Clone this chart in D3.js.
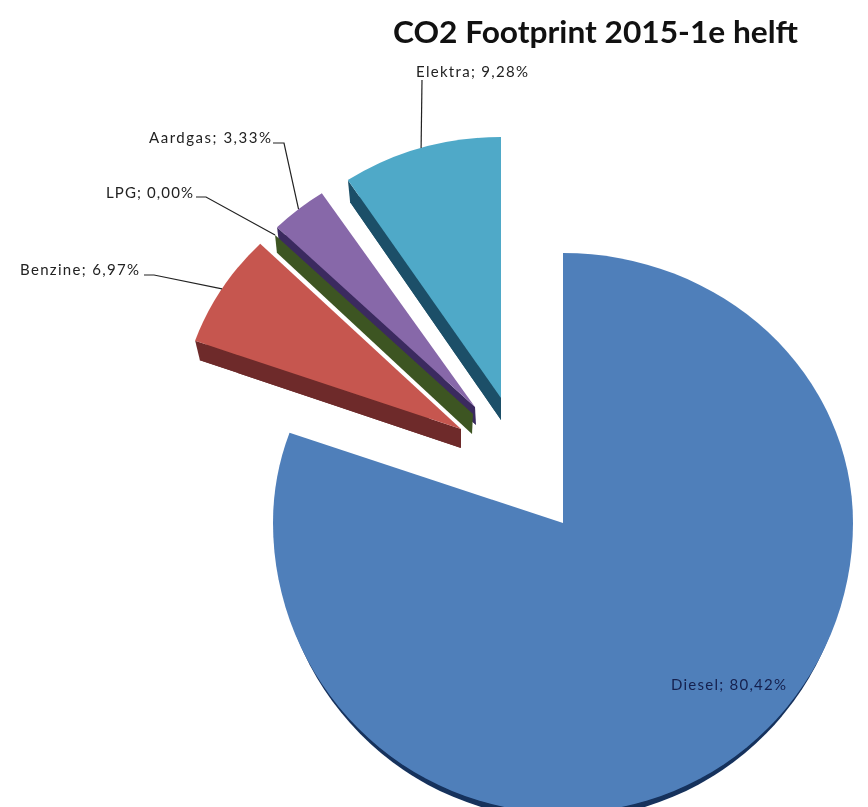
<!DOCTYPE html>
<html><head><meta charset="utf-8">
<style>html,body{margin:0;padding:0;background:#fff;overflow:hidden}svg{display:block}</style>
<script src="https://cdn.jsdelivr.net/npm/d3@7"></script></head>
<body><svg id="c" width="868" height="807"></svg>
<script>
const title = "CO2 Footprint 2015-1e helft";
const categories = ["Diesel","Benzine","LPG","Aardgas","Elektra"];
const values = [80.42,6.97,0.00,3.33,9.28];
const faceColors = ["#4f7fba","#c6574f","#4f6a2c","#8767a9","#4fa9c8"];
const wallColors = ["#14305c","#6e2b2b","#3e5423","#3a2a5e","#1c5068"];
const topFace = [[563,523,290,270],[461,429,282,264],[473,414,278,255],[475,407,278,256],[501,398,278,261]];
const baseFace = [[563,528,287,270],[461,448,277,263],[472,434,274,258],[476,425,277,262],[501,420,274,261]];
const nearDepth = [290,291];   // diesel's lower half is stretched by the perspective (face, base)
const labelPos = [[671,690,115],[139,275,119],[193,198,87],[271,143,122],[416,77,112]];
const elbows = [null,[[154,275],[144,275]],[[206,197],[196,197]],[[284,143],[273,143]],[[422,80]]];
const drawOrder = [0,1,3,2,"3f",4];

const svg = d3.select("#c");
const defs = svg.append("defs");
defs.append("filter").attr("id","soft").append("feGaussianBlur").attr("stdDeviation",0.45);
const pieGen = d3.pie().sort(null).startAngle(0).endAngle(2*Math.PI);
const arcs = pieGen(values);
const arcGen = d3.arc().innerRadius(0).outerRadius(1);
const pt = (f,a)=>{const p=d3.pointRadial(a,1);return [f[0]+p[0]*f[2],f[1]+p[1]*f[3]];};
const marks = svg.append("g").attr("filter","url(#soft)");
const tf = f=>`translate(${f[0]},${f[1]}) scale(${f[2]},${f[3]})`;

function drawDiesel(f,nearRy,color){
  const a=arcs[0];
  const q=Math.PI/2, t=3*Math.PI/2;
  const g=marks.append("g").attr("fill",color);
  g.append("path").attr("d",arcGen({startAngle:a.startAngle,endAngle:q})).attr("transform",tf(f));
  g.append("path").attr("d",arcGen({startAngle:q,endAngle:t})).attr("transform",tf([f[0],f[1],f[2],nearRy]));
  g.append("path").attr("d",arcGen({startAngle:t,endAngle:a.endAngle})).attr("transform",tf(f));
}
function drawWall(i){
  const a=arcs[i];
  marks.append("path").attr("d",arcGen(a)).attr("transform",tf(baseFace[i])).attr("fill",wallColors[i]);
  marks.append("path").attr("d",d3.line()([[topFace[i][0],topFace[i][1]],pt(topFace[i],a.startAngle),pt(baseFace[i],a.startAngle),[baseFace[i][0],baseFace[i][1]]])+"Z").attr("fill",wallColors[i]);
}
function drawFace(i){
  if(arcs[i].endAngle-arcs[i].startAngle<1e-6) return;
  marks.append("path").attr("d",arcGen(arcs[i])).attr("transform",tf(topFace[i])).attr("fill",faceColors[i]);
}
drawOrder.forEach(k=>{
  if(k===0){drawDiesel(baseFace[0],nearDepth[1],wallColors[0]);drawDiesel(topFace[0],nearDepth[0],faceColors[0]);return;}
  if(k==="3f"){drawFace(3);return;}
  if(k===3){drawWall(3);return;}
  drawWall(k);drawFace(k);
});

// leader lines
const leaders = svg.append("g").attr("fill","none").attr("stroke","#222").attr("stroke-width",1.2);
arcs.forEach((a,i)=>{
  if(!elbows[i]) return;
  const mid=(a.startAngle+a.endAngle)/2;
  leaders.append("path").attr("d",d3.line()([...elbows[i].slice().reverse(),pt(topFace[i],mid)]));
});

// labels
const fmt = v=>v.toFixed(2).replace(".",",")+"%";
const labels = svg.append("g").attr("font-family","Lato,sans-serif").attr("font-size",15);
arcs.forEach((a,i)=>{
  const lp=labelPos[i];
  const anchor=(i===0||i===4)?"start":"end";
  labels.append("text").attr("x",lp[0]).attr("y",lp[1]).attr("text-anchor",anchor)
    .attr("textLength",lp[2]).attr("lengthAdjust","spacing")
    .attr("fill",i===0?"#15204e":"#222").text(`${categories[i]}; ${fmt(values[i])}`);
});
svg.append("text").attr("x",393).attr("y",43).attr("font-family","Lato,sans-serif").attr("font-weight",700)
  .attr("font-size",30).attr("textLength",405).attr("lengthAdjust","spacingAndGlyphs").attr("fill","#111").text(title);
</script></body></html>
